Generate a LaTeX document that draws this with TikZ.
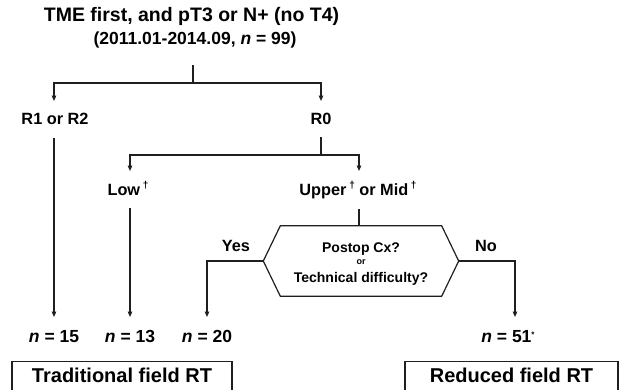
\documentclass[tikz,border=0pt]{standalone}
\usepackage{fontspec}
\setmainfont{Liberation Sans}
\usetikzlibrary{arrows.meta}
\newcommand{\fsz}[1]{\fontsize{#1}{#1}\selectfont\bfseries}
\newcommand{\dgr}{\raisebox{0.45em}{\fontsize{10}{10}\selectfont\bfseries †}}
\newcommand{\astr}{\raisebox{0.25em}{\fontsize{8}{8}\selectfont\bfseries *}}
\begin{document}
\begin{tikzpicture}[x=1pt,y=-1pt,
  every node/.style={inner sep=0pt, text=black},
  ln/.style={line width=1.2pt, draw=black!88, line join=miter},
  arr/.style={ln, -{Triangle[length=5.5pt,width=4.5pt]}},
  ttl/.style={anchor=base, font=\fsz{19.5}},
  sub/.style={anchor=base, font=\fsz{17.5}},
  lab/.style={anchor=base, font=\fsz{16.3}},
  cnt/.style={anchor=base, font=\fsz{17.5}},
  qtxt/.style={anchor=base, font=\fsz{14}},
  qor/.style={anchor=base, font=\fsz{9}},
  rtbox/.style={draw=black!88, line width=1.2pt, anchor=north, font=\fsz{20},
    text height=14.3pt, text depth=18pt, inner ysep=6.7pt, inner xsep=0pt}
]
\useasboundingbox (0,0) rectangle (627,389);
\fill[white] (0,0) rectangle (627,389);
\clip (0,0) rectangle (627,389);

% texts
\node[ttl] (t1) at (191.5,21) {TME first, and pT3 or N+ (no T4)};
\node[sub] (t2) at (195,44.3) {(2011.01-2014.09, \textit{n} = 99)};
\node[lab] (r12) at (55,124.8) {R1 or R2};
\node[lab] (r0) at (321,124.8) {R0};
\node[lab] (low) at (128,195.8) {Low\,\dgr};
\node[lab] (up) at (358,195.8) {Upper\,\dgr{} or Mid\,\dgr};
\node[lab] (yes) at (236,251.8) {Yes};
\node[lab] (no) at (486,251.8) {No};

% decision hexagon
\node[minimum width=161pt, minimum height=70pt] (hx) at (361,261) {};
\draw[ln] ([xshift=-17pt]hx.west) -- (hx.north west) -- (hx.north east)
  -- ([xshift=17pt]hx.east) -- (hx.south east) -- (hx.south west) -- cycle;
\node[qtxt] (q1) at (361,252) {Postop Cx?};
\node[qor] (q2) at (361,264.3) {or};
\node[qtxt] (q3) at (361,282) {Technical difficulty?};

% counts
\node[cnt] (n15) at (54,342.3) {\textit{n} = 15};
\node[cnt] (n13) at (130,342.3) {\textit{n} = 13};
\node[cnt] (n20) at (207,342.3) {\textit{n} = 20};
\node[cnt] (n51) at (508,342.3) {\textit{n} = 51\astr};

% result boxes
\node[rtbox, minimum width=220pt] (trad) at (122,361) {Traditional field RT\hspace{10pt}};
\node[rtbox, minimum width=213pt] (red) at (511.5,361) {Reduced field RT\hspace{6pt}};

% connector points
\coordinate (c0) at (193,65);
\coordinate (c1) at (193,83);
\coordinate (a12) at (54,101);
\coordinate (a0) at (321,101);
\coordinate (d0) at (321,137);
\coordinate (d1) at (321,155);
\coordinate (alow) at (130,171);
\coordinate (aup) at (359,171);
\coordinate (s12) at (54,138);
\coordinate (e12) at (54,317);
\coordinate (slow) at (130,208);
\coordinate (elow) at (130,317);
\coordinate (sup) at (359,209);
\coordinate (eyes) at (207,317);
\coordinate (eno) at (515,317);

% connectors
\draw[ln] (c0) -- (c1);
\draw[arr] (c1) -| (a12);
\draw[arr] (c1) -| (a0);
\draw[ln] (d0) -- (d1);
\draw[arr] (d1) -| (alow);
\draw[arr] (d1) -| (aup);
\draw[arr] (s12) -- (e12);
\draw[arr] (slow) -- (elow);
\draw[ln] (sup) -- (sup |- hx.north);
\draw[arr] ([xshift=-17pt]hx.west) -| (eyes);
\draw[arr] ([xshift=17pt]hx.east) -| (eno);
\end{tikzpicture}
\end{document}
